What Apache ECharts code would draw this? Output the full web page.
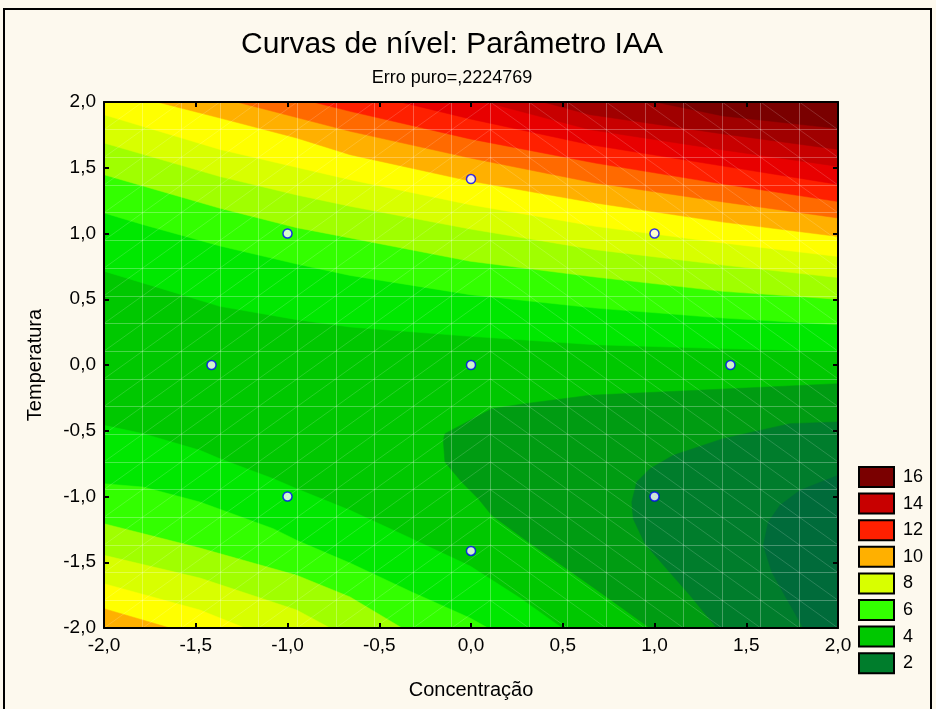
<!DOCTYPE html>
<html><head><meta charset="utf-8">
<script src="https://cdn.jsdelivr.net/npm/echarts@6/dist/echarts.min.js"></script>
<style>html,body{margin:0;padding:0;background:#fdf9ee}#c{width:936px;height:709px}</style>
</head><body><div id="c"></div>
<script>
// ---- data ----
const designX = [-1, 1, -1, 1, -1.414, 1.414, 0, 0, 0];
const designY = [-1, -1, 1, 1, 0, 0, -1.414, 1.414, 0];
const legendLevels = [16, 14, 12, 10, 8, 6, 4, 2];
// colour of each level band (band 1 = lowest ... band 16 = highest)
const bandColors = ['#006b3a','#007d2c','#009c12','#00c800','#00e800','#33ff00','#a0ff00','#d8ff00',
                    '#ffff00','#ffb000','#ff6a00','#ff2000','#e80000','#c80000','#a00000','#7a0000'];
// contour lines (Concentração, Temperatura) between band k and band k+1
// upper rising area
const top4  = [[-2,0.713],[-1.577,0.535],[-1.368,0.446],[-0.950,0.345],[-0.659,0.289],[-0.005,0.218],[0.676,0.154],[1.373,0.125],[2,0.103]];
const top5  = [[-2,1.156],[-1.786,1.067],[-1.368,0.905],[-0.950,0.768],[-0.659,0.681],[-0.005,0.535],[0.676,0.433],[1.373,0.357],[2,0.306]];
const top6  = [[-2,1.447],[-1.368,1.192],[-0.950,1.044],[-0.659,0.966],[-0.005,0.789],[0.676,0.669],[1.373,0.560],[2,0.500]];
const top7  = [[-2,1.688],[-1.368,1.433],[-0.950,1.293],[-0.659,1.207],[-0.005,1.034],[0.676,0.877],[1.373,0.760],[2,0.665]];
const top8  = [[-2,1.903],[-1.368,1.639],[-0.659,1.409],[-0.005,1.219],[0.676,1.055],[1.373,0.928],[2,0.825]];
const top9  = [[-1.711,2],[-1.368,1.878],[-0.950,1.726],[-0.659,1.599],[-0.005,1.399],[0.676,1.232],[1.373,1.087],[2,0.977]];
const top10 = [[-1.277,2],[-0.659,1.777],[-0.005,1.574],[0.676,1.384],[1.373,1.240],[2,1.118]];
const top11 = [[-0.861,2],[-0.659,1.929],[-0.005,1.719],[0.676,1.536],[1.373,1.376],[2,1.243]];
const top12 = [[-0.387,2],[-0.005,1.871],[0.649,1.675],[1.373,1.513],[2,1.373]];
const top13 = [[0.076,2],[0.649,1.789],[1.373,1.635],[2,1.510]];
const top14 = [[0.392,2],[0.649,1.903],[1.373,1.757],[2,1.639]];
const top15 = [[1.003,2],[1.373,1.894],[2,1.798]];
// lower-left rising area
const low4 = [[-2,-0.459],[-1.786,-0.522],[-1.477,-0.649],[-1.368,-0.713],[-1.077,-0.865],[-0.950,-0.941],[-0.659,-1.105],[-0.323,-1.321],[-0.005,-1.529],[0.267,-1.772],[0.496,-2]];
const low5 = [[-2,-0.903],[-1.786,-0.928],[-1.477,-1.042],[-1.077,-1.245],[-0.950,-1.333],[-0.659,-1.506],[-0.323,-1.726],[-0.005,-1.924],[0.093,-2]];
const low6 = [[-2,-1.207],[-1.477,-1.392],[-0.950,-1.599],[-0.659,-1.764],[-0.376,-2]];
const low7 = [[-2,-1.447],[-1.477,-1.620],[-0.950,-1.863],[-0.768,-2]];
const low8 = [[-2,-1.663],[-1.477,-1.863],[-1.232,-2]];
const low9 = [[-2,-1.853],[-1.640,-2]];
// lower-right depression
const dep3 = [[2,-0.142],[0.649,-0.230],[0.294,-0.294],[0.113,-0.332],[-0.142,-0.522],[-0.151,-0.573],[-0.142,-0.738],[-0.051,-0.890],[0.040,-1.017],[0.113,-1.143],[0.312,-1.346],[0.494,-1.523],[0.676,-1.701],[0.975,-2]];
const dep2 = [[2,-0.433],[1.738,-0.446],[1.373,-0.560],[1.102,-0.687],[0.975,-0.789],[0.903,-0.890],[0.876,-1.042],[0.884,-1.169],[0.948,-1.359],[1.066,-1.549],[1.193,-1.751],[1.339,-2]];
const dep1 = [[2,-0.839],[1.793,-0.953],[1.684,-1.067],[1.620,-1.194],[1.593,-1.371],[1.639,-1.574],[1.720,-1.777],[1.811,-2]];

// ---- build filled regions ----
const XMIN = -2, XMAX = 2, YMIN = -2, YMAX = 2;
const MESH = 19; // surface mesh cells per side
const regions = [];
regions.push({pts: [[XMIN,YMIN],[XMAX,YMIN],[XMAX,YMAX],[XMIN,YMAX]], band: 4});
[[top4,5],[top5,6],[top6,7],[top7,8],[top8,9],[top9,10],[top10,11],[top11,12],[top12,13],[top13,14],[top14,15],[top15,16]].forEach(([c,b]) => {
  const pts = c.slice(); pts.push([XMAX,YMAX]);
  if (c[0][0] === XMIN) pts.push([XMIN,YMAX]);
  regions.push({pts, band: b});
});
[[low4,5],[low5,6],[low6,7],[low7,8],[low8,9],[low9,10]].forEach(([c,b]) => {
  const pts = c.slice(); pts.push([XMIN,YMIN]); regions.push({pts, band: b});
});
[[dep3,3],[dep2,2],[dep1,1]].forEach(([c,b]) => {
  const pts = c.slice(); pts.push([XMAX,YMIN]); regions.push({pts, band: b});
});

const FONT = 'Liberation Sans, Arial, sans-serif';
const fmt = v => v.toFixed(1).replace('.', ',');
const chart = echarts.init(document.getElementById('c'), null, {renderer: 'canvas'});

const frameAxis = (pos, labels) => ({
  type: 'value', min: -2, max: 2, interval: 0.5, position: pos, z: 10,
  axisLine: {show: true, onZero: false, lineStyle: {color: '#000', width: 2}},
  axisTick: {show: true, inside: true, length: 5, lineStyle: {color: '#000', width: 2}},
  axisLabel: {show: labels, formatter: fmt, color: '#000', fontSize: 19, fontFamily: FONT, margin: 8},
  splitLine: {show: false}
});
const meshAxis = pos => ({
  type: 'value', min: 0, max: MESH, interval: 1, position: pos, z: 9,
  axisLine: {show: false}, axisTick: {show: false}, axisLabel: {show: false},
  splitLine: {show: true, lineStyle: {color: 'rgba(255,255,255,0.28)', width: 1}}
});

const legendGraphics = [];
legendLevels.forEach((lv, i) => {
  const y = 467 + i * 26.6;
  legendGraphics.push({type: 'rect', shape: {x: 859, y: y, width: 35, height: 20},
    style: {fill: bandColors[lv - 1], stroke: '#000', lineWidth: 2}});
  legendGraphics.push({type: 'text', x: 903, y: y + 10,
    style: {text: String(lv), fill: '#000', font: '18px ' + FONT, textVerticalAlign: 'middle'}});
});

chart.setOption({
  backgroundColor: '#fdf9ee',
  animation: false,
  grid: {left: 104, top: 102, right: 98, bottom: 81},
  xAxis: [
    Object.assign(frameAxis('bottom', true), {name: 'Concentração', nameLocation: 'middle', nameGap: 52,
      nameTextStyle: {color: '#000', fontSize: 20, fontFamily: FONT}}),
    frameAxis('top', false),
    meshAxis('bottom')
  ],
  yAxis: [
    Object.assign(frameAxis('left', true), {name: 'Temperatura', nameLocation: 'middle', nameGap: 59,
      nameTextStyle: {color: '#000', fontSize: 20, fontFamily: FONT}}),
    frameAxis('right', false),
    meshAxis('left')
  ],
  graphic: [
    {type: 'rect', shape: {x: 4, y: 9, width: 927, height: 730}, style: {fill: 'none', stroke: '#000', lineWidth: 2}},
    {type: 'text', x: 452, y: 45, style: {text: 'Curvas de nível: Parâmetro IAA', fill: '#000', font: '30px ' + FONT, textAlign: 'center', textVerticalAlign: 'middle'}},
    {type: 'text', x: 452, y: 78, style: {text: 'Erro puro=,2224769', fill: '#000', font: '18px ' + FONT, textAlign: 'center', textVerticalAlign: 'middle'}}
  ].concat(legendGraphics),
  series: [
    {type: 'custom', xAxisIndex: 0, yAxisIndex: 0, z: 2, clip: true,
     data: regions.map(() => [0, 0]),
     renderItem: (params, api) => {
       const r = regions[params.dataIndex];
       return {type: 'polygon', shape: {points: r.pts.map(p => api.coord(p))},
               style: {fill: bandColors[r.band - 1], stroke: bandColors[r.band - 1], lineWidth: 0.5}};
     }},
    // faint diagonals of the surface mesh (left half "/", right half "\")
    {type: 'custom', xAxisIndex: 2, yAxisIndex: 2, z: 8, clip: true, silent: true,
     data: [[0, 0]],
     renderItem: (params, api) => {
       const children = [];
       for (let i = 0; i < MESH; i++) {
         for (let j = 0; j < MESH; j++) {
           const a = i < 10 ? api.coord([i, j]) : api.coord([i, j + 1]);
           const b = i < 10 ? api.coord([i + 1, j + 1]) : api.coord([i + 1, j]);
           children.push({type: 'line', shape: {x1: a[0], y1: a[1], x2: b[0], y2: b[1]},
             style: {stroke: 'rgba(255,255,255,0.16)', lineWidth: 1}});
         }
       }
       return {type: 'group', children};
     }},
    {type: 'scatter', xAxisIndex: 0, yAxisIndex: 0, z: 20, symbol: 'circle', symbolSize: 9,
     itemStyle: {color: '#fff', borderColor: '#0000ff', borderWidth: 1.5},
     data: designX.map((x, i) => [x, designY[i]])}
  ]
});
</script></body></html>
